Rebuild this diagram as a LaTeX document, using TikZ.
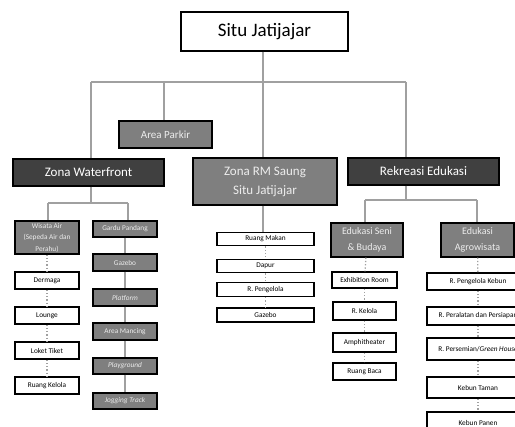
\documentclass[tikz,border=0pt]{standalone}
\usepackage{fontspec}
\setmainfont{Carlito}
\begin{document}
\begin{tikzpicture}[x=1pt,y=-1pt,
  bx/.style={draw=black,line width=1.1pt,inner sep=0pt,align=center},
  dark/.style={bx,fill=darkbox,text=white},
  grey/.style={bx,fill=greybox,text=textlight},
  white/.style={bx,fill=white,text=black},
  sm/.style={font=\fontsize{7.3}{9}\selectfont},
  conn/.style={draw=lineg,line width=1.4pt},
  dots/.style={draw=lineg,line width=1.3pt,dotted}]
\definecolor{darkbox}{HTML}{404040}
\definecolor{greybox}{HTML}{7F7F7F}
\definecolor{textlight}{HTML}{EDEDED}
\definecolor{lineg}{HTML}{A0A0A0}
\useasboundingbox (0,0) rectangle (515,427);
\begin{scope}
\clip (-1,-1) rectangle (515,427);

% top level
\node[white,minimum width=167pt,minimum height=39pt,font=\fontsize{19}{22}\selectfont] (root) at (264.5,31.5) {Situ Jatijajar};
\node[grey,minimum width=93pt,minimum height=27pt,font=\fontsize{11}{13}\selectfont] (parkir) at (165.5,134.5) {Area Parkir};
\node[dark,minimum width=151pt,minimum height=27pt,font=\fontsize{13}{15}\selectfont] (zwf) at (88.5,172.5) {Zona Waterfront};
\node[grey,minimum width=144pt,minimum height=47pt,font=\fontsize{13}{19}\selectfont] (zrm) at (265,181.5) {Zona RM Saung\\Situ Jatijajar};
\node[dark,minimum width=151pt,minimum height=27pt,font=\fontsize{13}{15}\selectfont] (rek) at (423.5,171.5) {Rekreasi Edukasi};

\coordinate (bus) at (263,82);
\draw[conn] (root.south -| bus) -- (bus);
\draw[conn] (91,82) -- (406,82);
\draw[conn] (91,82) -- (zwf.north -| 91,0);
\draw[conn] (164,82) -- (parkir.north -| 164,0);
\draw[conn] (263,82) -- (zrm.north -| 263,0);
\draw[conn] (406,82) -- (rek.north -| 406,0);

% Waterfront
\node[grey,minimum width=64pt,minimum height=33pt,font=\fontsize{7.3}{11.5}\selectfont] (wisata) at (47,237.5) {Wisata Air\\(Sepeda Air dan\\Perahu)};
\node[white,sm,minimum width=64pt,minimum height=17pt] (dermaga) at (47,280.5) {Dermaga};
\node[white,sm,minimum width=64pt,minimum height=17pt] (lounge) at (47,315.5) {Lounge};
\node[white,sm,minimum width=64pt,minimum height=17pt] (loket) at (47,350.5) {Loket Tiket};
\node[white,sm,minimum width=64pt,minimum height=17pt] (rkelola) at (47,385.5) {Ruang Kelola};

\node[grey,sm,minimum width=64pt,minimum height=16pt] (gardu) at (125,229) {Gardu Pandang};
\node[grey,sm,minimum width=64pt,minimum height=17pt] (gazebo1) at (125,262.5) {Gazebo};
\node[grey,sm,minimum width=64pt,minimum height=17pt] (platform) at (125,297.5) {\itshape Platform};
\node[grey,sm,minimum width=64pt,minimum height=17pt] (mancing) at (125,331.5) {Area Mancing};
\node[grey,sm,minimum width=64pt,minimum height=16pt] (playground) at (125,366) {\itshape Playground};
\node[grey,sm,minimum width=64pt,minimum height=16pt] (jogging) at (125,401) {\itshape Jogging Track};

\draw[conn] (zwf.south -| 91,0) -- (91,203);
\draw[conn] (48,203) -- (128,203);
\draw[conn] (48,203) -- (wisata.north -| 48,0);
\draw[conn] (128,203) -- (gardu.north -| 128,0);
\draw[dots] (wisata) -- (dermaga);
\draw[dots] (dermaga) -- (lounge);
\draw[dots] (lounge) -- (loket);
\draw[dots] (loket) -- (rkelola);
\draw[conn] (gardu) -- (gazebo1);
\draw[conn] (gazebo1) -- (platform);
\draw[conn] (platform) -- (mancing);
\draw[conn] (mancing) -- (playground);
\draw[conn] (playground) -- (jogging);

% RM Saung
\node[white,sm,minimum width=97pt,minimum height=13.5pt] (makan) at (265.5,239) {Ruang Makan};
\node[white,sm,minimum width=97pt,minimum height=13.5pt] (dapur) at (265.5,266) {Dapur};
\node[white,sm,minimum width=97pt,minimum height=14pt] (rpeng) at (265.5,289.5) {R. Pengelola};
\node[white,sm,minimum width=97pt,minimum height=14pt] (gazebo2) at (265.5,315) {Gazebo};
\draw[conn] (zrm.south -| 263,0) -- (makan.north -| 263,0);
\draw[dots] (makan) -- (dapur);
\draw[dots] (dapur) -- (rpeng);
\draw[dots] (rpeng) -- (gazebo2);

% Rekreasi Edukasi
\node[grey,minimum width=72pt,minimum height=34pt,font=\fontsize{10}{16}\selectfont] (seni) at (367,240) {Edukasi Seni\\\& Budaya};
\node[grey,minimum width=73pt,minimum height=34pt,font=\fontsize{10}{16}\selectfont] (agro) at (477.5,240) {Edukasi\\Agrowisata};
\draw[conn] (rek.south -| 406,0) -- (406,200);
\draw[conn] (365,200) -- (477,200);
\draw[conn] (365,200) -- (seni.north -| 365,0);
\draw[conn] (477,200) -- (agro.north -| 477,0);

\node[white,sm,minimum width=65pt,minimum height=16pt] (exhib) at (364.5,280) {Exhibition Room};
\node[white,sm,minimum width=63pt,minimum height=18pt] (rkel2) at (364.5,311) {R. Kelola};
\node[white,sm,minimum width=63pt,minimum height=19pt] (amphi) at (364.5,342.5) {Amphitheater};
\node[white,sm,minimum width=63pt,minimum height=17pt] (baca) at (364.5,371.5) {Ruang Baca};
\draw[dots] (seni) -- (exhib);
\draw[dots] (exhib) -- (rkel2);
\draw[dots] (rkel2) -- (amphi);
\draw[dots] (amphi) -- (baca);

\node[white,sm,minimum width=102pt,minimum height=17pt] (kebpeng) at (478,281.5) {R. Pengelola Kebun};
\node[white,sm,minimum width=102pt,minimum height=18pt] (alat) at (478,316) {R. Peralatan dan Persiapan};
\node[white,sm,minimum width=102pt,minimum height=22pt] (semai) at (478,349) {R. Persemian/\textit{Green House}};
\node[white,sm,minimum width=102pt,minimum height=21pt] (taman) at (478,387.5) {Kebun Taman};
\node[white,sm,minimum width=102pt,minimum height=21pt] (panen) at (478,422.5) {Kebun Panen};
\draw[dots] (agro) -- (kebpeng);
\draw[dots] (kebpeng) -- (alat);
\draw[dots] (alat) -- (semai);
\draw[dots] (semai) -- (taman);
\draw[dots] (taman) -- (panen);
\end{scope}
\end{tikzpicture}
\end{document}
